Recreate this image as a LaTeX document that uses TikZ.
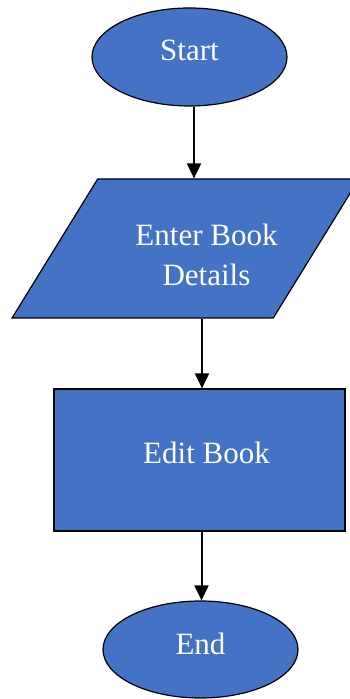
\documentclass[tikz,border=0pt]{standalone}
\usepackage{fontspec}
\setmainfont{Liberation Serif}
\usetikzlibrary{shapes.geometric, arrows.meta, positioning}
\definecolor{boxblue}{HTML}{4472C4}

\begin{document}
\begin{tikzpicture}[x=1pt, y=1pt,
    flowbox/.style={draw=black, line width=1.2pt, fill=boxblue},
    txt/.style={text=white, font=\rmfamily\fontsize{31}{40}\selectfont, align=center},
    flow/.style={-{Triangle[length=15pt, width=14pt]}, line width=2pt}]

\useasboundingbox (0,0) rectangle (350,699);

% Start (ellipse)
\node[flowbox, ellipse, minimum width=195, minimum height=98,
      label={[txt, yshift=7]center:Start}] (start) at (189.5,642) {};

% Input (parallelogram)
\node[flowbox, trapezium, trapezium left angle=64, trapezium right angle=116,
      trapezium stretches=true, minimum width=347, minimum height=139,
      label={[txt, xshift=21, yshift=-6]center:{Enter Book\\Details}}] (input) at (185.5,450.5) {};

% Process (rectangle)
\node[flowbox, rectangle, minimum width=291, minimum height=142,
      label={[txt, xshift=7, yshift=7]center:Edit Book}] (edit) at (199.5,239) {};

% End (ellipse)
\node[flowbox, ellipse, minimum width=195, minimum height=97,
      label={[txt, yshift=6]center:End}] (end) at (200.5,49.5) {};

% Arrows
\draw[flow] ([xshift=4.5]start.south) -- ([xshift=4.5]start.south |- input.north);
\draw[flow] ([xshift=2.5]edit.north |- input.south) -- ([xshift=2.5]edit.north);
\draw[flow] ([xshift=2]edit.south) -- ([xshift=2]edit.south |- end.north);

\end{tikzpicture}
\end{document}
